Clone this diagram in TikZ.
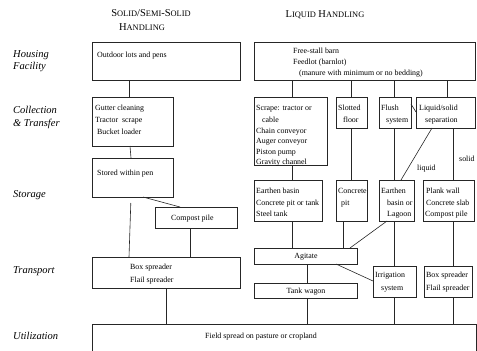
\documentclass[tikz,border=0pt]{standalone}
\usepackage{fontspec}
\setmainfont{Liberation Serif}
\newcommand\fsc[2]{#1{\fontsize{8.4}{10}\selectfont #2}}
\newcommand\mkbox[5]{\node[bx, minimum width={(#4-#2)*1pt}, minimum height={(#5-#3)*1pt}] (#1) at ({(#2+#4)/2},{(#3+#5)/2}) {};}
\begin{document}
\begin{tikzpicture}[x=1pt,y=-1pt,
  bx/.style={draw=black!85, line width=0.8pt, inner sep=0, outer sep=0},
  ln/.style={draw=black!85, line width=0.6pt},
  tx/.style={anchor=west, inner sep=0, font=\fontsize{7.9}{9.5}\selectfont, text height=5.6pt, text depth=1.6pt},
  tc/.style={tx, anchor=center},
  hd/.style={inner sep=0, font=\fontsize{10.5}{12}\selectfont},
  lb/.style={anchor=west, inner sep=0, font=\fontsize{10.5}{12}\selectfont\itshape, text height=7.3pt, text depth=2.2pt}]
\useasboundingbox (0,0) rectangle (477,351);

% headers
\node[hd] (h1) at (151,13) {\fsc{S}{OLID}/\fsc{S}{EMI}-\fsc{S}{OLID}};
\node[hd] (h2) at (142,27) {\fsc{H}{ANDLING}};
\node[hd] (h3) at (325,15) {\fsc{L}{IQUID} \fsc{H}{ANDLING}};

% row labels
\node[lb] (l1) at (13,55) {Housing};
\node[lb] (l2) at (13,67) {Facility};
\node[lb] (l3) at (13,111) {Collection};
\node[lb] (l4) at (13,124) {\& Transfer};
\node[lb] (l5) at (13,195) {Storage};
\node[lb] (l6) at (13,271) {Transport};
\node[lb] (l7) at (13,337) {Utilization};

% boxes
\mkbox{out}{92}{42}{240}{80}
\mkbox{fsb}{254}{42}{475}{80}
\mkbox{gut}{92}{97}{173}{146}
\mkbox{scr}{254}{97}{327}{165}
\mkbox{slot}{336}{97}{367}{128}
\mkbox{flush}{379}{97}{411}{128}
\mkbox{sep}{416}{97}{475}{128}
\mkbox{pen}{92}{158}{173}{197}
\mkbox{comp}{155}{207}{237}{228}
\mkbox{eb}{254}{180}{322}{221}
\mkbox{cp}{336}{180}{367}{221}
\mkbox{lag}{379}{180}{414}{221}
\mkbox{plank}{423}{180}{474}{221}
\mkbox{agit}{254}{248}{357}{264}
\mkbox{irr}{373}{266}{416}{297}
\mkbox{bsr}{424}{266}{472}{297}
\mkbox{tw}{254}{283}{357}{298}
\mkbox{bsl}{92}{257}{240}{288}
\mkbox{util}{92}{324}{476}{353}

% texts
\node[tx] (t1) at (97,55) {Outdoor lots and pens};
\node[tx] (t2) at (293,51) {Free-stall barn};
\node[tx] (t3) at (293,62) {Feedlot (barnlot)};
\node[tx] (t4) at (299,73) {(manure with minimum or no bedding)};
\node[tx] (t5) at (95,108) {Gutter cleaning};
\node[tx] (t6) at (95,120) {Tractor\ \ scrape};
\node[tx] (t7) at (97,132) {Bucket loader};
\node[tx] (t8) at (256,108) {Scrape: tractor or};
\node[tx] (t9) at (262,120) {cable};
\node[tx] (t10) at (256,131) {Chain conveyor};
\node[tx] (t11) at (256,141.5) {Auger conveyor};
\node[tx] (t12) at (256,152) {Piston pump};
\node[tx] (t13) at (256,162) {Gravity channel};
\node[tx] (t14) at (338,108) {Slotted};
\node[tx] (t15) at (343,120) {floor};
\node[tx] (t16) at (381,108) {Flush};
\node[tx] (t17) at (386,120) {system};
\node[tx] (t18) at (419,108) {Liquid/solid};
\node[tx] (t19) at (425,120) {separation};
\node[tx] (t20) at (97,173) {Stored within pen};
\node[tx] (t21) at (171,218) {Compost pile};
\node[tx] (t22) at (256,191) {Earthen basin};
\node[tx] (t23) at (256,203) {Concrete pit or tank};
\node[tx] (t24) at (256,214) {Steel tank};
\node[tx] (t25) at (338,191) {Concrete};
\node[tx] (t26) at (341,203) {pit};
\node[tx] (t27) at (381,191) {Earthen};
\node[tx] (t28) at (387,203) {basin or};
\node[tx] (t29) at (387,214) {Lagoon};
\node[tx] (t30) at (426,191) {Plank wall};
\node[tx] (t31) at (426,203) {Concrete slab};
\node[tx] (t32) at (425,214) {Compost pile};
\node[tc] (t33) at (306,256) {Agitate};
\node[tc] (t34) at (306,291) {Tank wagon};
\node[tx] (t35) at (375,275) {Irrigation};
\node[tx] (t36) at (381,288) {system};
\node[tx] (t37) at (426,275) {Box spreader};
\node[tx] (t38) at (426,288) {Flail spreader};
\node[tx] (t39) at (130,267) {Box spreader};
\node[tx] (t40) at (130,280) {Flail spreader};
\node[tx] (t41) at (205,336) {Field spread on pasture or cropland};
\node[tx] (t42) at (417,168) {liquid};
\node[tx] (t43) at (459,159) {solid};

% connectors
\draw[ln] (out.south -| 129,0) -- (gut.north -| 129,0);
\draw[ln] (gut.south -| 130,0) -- (pen.north -| 131,0);
\draw[ln] (pen.south -| 143,0) -- (comp.north -| 180,0);
\draw[ln, shorten <=6pt] (pen.south -| 131,0) -- (bsl.north -| 129,0);
\draw[ln] (comp.south -| 190,0) -- (bsl.north -| 190,0);
\draw[ln] (bsl.south -| 166,0) -- (util.north -| 166,0);

\draw[ln] (fsb.south -| 292,0) -- (scr.north -| 292,0);
\draw[ln] (fsb.south -| 351,0) -- (slot.north -| 351,0);
\draw[ln] (fsb.south -| 394,0) -- (flush.north -| 394,0);
\draw[ln] (fsb.south -| 447,0) -- (sep.north -| 447,0);
\draw[ln] (flush.east |- 0,104) -- (sep.west |- 0,112);

\draw[ln] (scr.south -| 292,0) -- (eb.north -| 292,0);
\draw[ln] (slot.south -| 351,0) -- (cp.north -| 351,0);
\draw[ln] (flush.south -| 394,0) -- (lag.north -| 394,0);
\draw[ln] (sep.south -| 432,0) -- (lag.north -| 401,0);
\draw[ln] (sep.south -| 453,0) -- (plank.north -| 453,0);

\draw[ln] (eb.south -| 292,0) -- (agit.north -| 292,0);
\draw[ln] (cp.south -| 343,0) -- (agit.north -| 343,0);
\draw[ln] (lag.south -| 387,0) -- (agit.north -| 350,0);
\draw[ln] (lag.south -| 394,0) -- (irr.north -| 394,0);
\draw[ln] (plank.south -| 453,0) -- (bsr.north -| 453,0);

\draw[ln] (agit.south -| 336,0) -- (irr.west |- 0,281);
\draw[ln] (agit.south -| 307,0) -- (tw.north -| 307,0);
\draw[ln] (tw.south -| 307,0) -- (util.north -| 307,0);
\draw[ln] (irr.south -| 394,0) -- (util.north -| 394,0);
\draw[ln] (bsr.south -| 453,0) -- (util.north -| 453,0);
\end{tikzpicture}
\end{document}
